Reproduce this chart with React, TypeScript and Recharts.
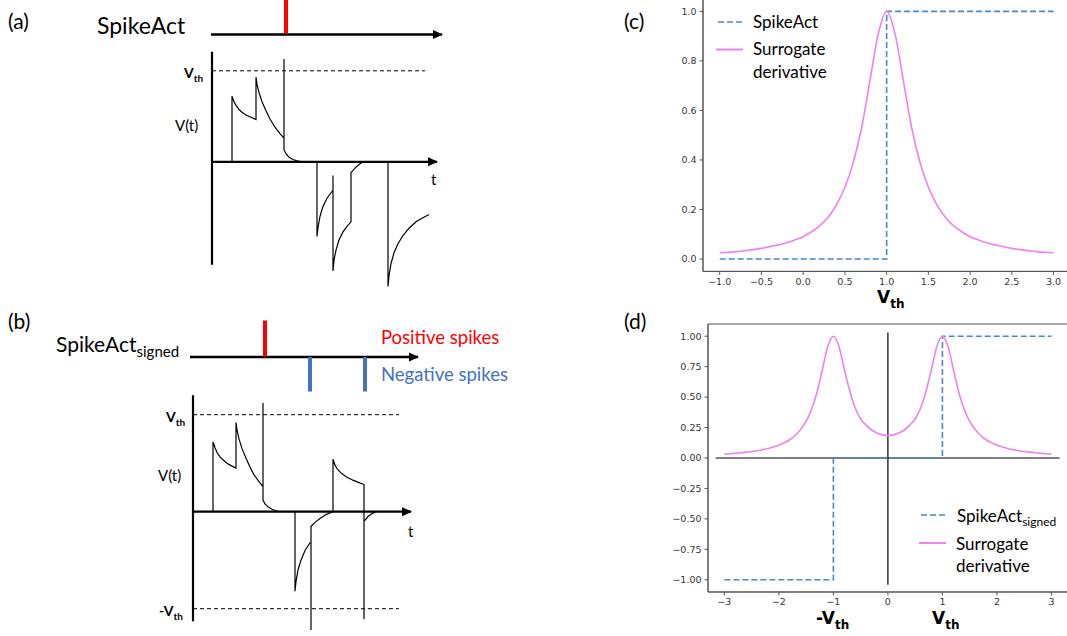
import { LineChart, Line, XAxis, YAxis, ReferenceArea } from "recharts";

type Pt = [number, number];

// ---- (a) SpikeAct schematic: t in arbitrary units, V in units of Vth ----
const trainA: Pt[] = [[-0.1, 1.4], [23.0, 1.4]];
const spikeA: Pt[] = [[7.4, 1.41], [7.4, 1.78]];
const axisVA: Pt[] = [[0, 1.21], [0, -1.13]];
const axisTA: Pt[] = [[0, 0], [22.5, 0]];
const vthA: Pt[] = [[0, 1], [21.3, 1]];
const tracePosA: Pt[] = [
  [2.0, 0], [2.0, 0.72], [2.2, 0.66], [2.4, 0.62], [2.7, 0.575], [3.0, 0.545], [3.4, 0.515], [3.9, 0.49], [4.4, 0.465],
  [4.4, 0.93], [4.5, 0.85], [4.7, 0.76], [5.0, 0.66], [5.4, 0.56], [5.8, 0.47], [6.3, 0.38], [6.8, 0.31], [7.2, 0.26],
  [7.2, 1.13], [7.2, 0.13], [7.4, 0.09], [7.7, 0.05], [8.1, 0.025], [8.5, 0.01], [9.0, 0],
];
const traceNegA: Pt[] = [
  [10.5, 0], [10.5, -0.82], [10.6, -0.72], [10.8, -0.6], [11.1, -0.49], [11.5, -0.4], [12.1, -0.31],
  [12.1, -0.15], [12.1, -1.2], [12.2, -1.08], [12.4, -0.97], [12.7, -0.86], [13.1, -0.77], [13.5, -0.71], [13.9, -0.66],
  [13.9, -0.12], [14.3, -0.07], [14.7, -0.03], [15.1, 0],
];
const traceLastA: Pt[] = [
  [17.6, 0], [17.6, -1.37], [17.7, -1.25], [17.9, -1.12], [18.2, -1.0], [18.6, -0.9], [19.1, -0.81],
  [19.7, -0.73], [20.4, -0.66], [21.0, -0.62], [21.7, -0.58],
];

// ---- (b) SpikeAct_signed schematic ----
const trainB: Pt[] = [[-0.3, 1.595], [22.5, 1.595]];
const spikePosB: Pt[] = [[7.2, 1.6], [7.2, 1.97]];
const spikeNegB1: Pt[] = [[11.7, 1.595], [11.7, 1.24]];
const spikeNegB2: Pt[] = [[17.2, 1.595], [17.2, 1.24]];
const axisVB: Pt[] = [[0, 1.2], [0, -1.13]];
const axisTB: Pt[] = [[0, 0], [21.8, 0]];
const vthB: Pt[] = [[0, 1], [20.6, 1]];
const vthNegB: Pt[] = [[0, -1], [20.6, -1]];
const tracePosB: Pt[] = [
  [2.0, 0], [2.0, 0.72], [2.2, 0.66], [2.4, 0.61], [2.7, 0.565], [3.0, 0.535], [3.4, 0.5], [3.8, 0.475], [4.3, 0.45],
  [4.3, 0.92], [4.4, 0.84], [4.6, 0.75], [4.9, 0.65], [5.3, 0.55], [5.7, 0.46], [6.1, 0.38], [6.6, 0.31], [7.0, 0.26],
  [7.0, 1.12], [7.0, 0.12], [7.2, 0.08], [7.5, 0.05], [7.9, 0.025], [8.3, 0.01], [8.7, 0],
];
const traceNegB: Pt[] = [
  [10.2, 0], [10.2, -0.82], [10.3, -0.72], [10.5, -0.6], [10.8, -0.5], [11.2, -0.4], [11.7, -0.32],
  [11.8, -0.32], [11.8, -1.22], [11.8, -0.15], [12.2, -0.11], [12.7, -0.07], [13.3, -0.03], [14.0, 0],
];
const traceLastB: Pt[] = [
  [14.0, 0], [14.0, 0.54], [14.2, 0.48], [14.5, 0.43], [14.9, 0.39], [15.4, 0.355], [16.0, 0.325], [16.6, 0.3], [17.1, 0.28],
  [17.1, -1.11], [17.1, -0.1], [17.5, -0.05], [17.9, -0.02], [18.3, 0],
];

// ---- (c) SpikeAct and surrogate derivative ----
const cX = [-1, -0.9, -0.8, -0.7, -0.6, -0.5, -0.4, -0.3, -0.2, -0.1, 0, 0.1, 0.2, 0.3, 0.4, 0.5, 0.6, 0.7, 0.8, 0.9, 1,
  1.1, 1.2, 1.3, 1.4, 1.5, 1.6, 1.7, 1.8, 1.9, 2, 2.1, 2.2, 2.3, 2.4, 2.5, 2.6, 2.7, 2.8, 2.9, 3];
const cSurrogate = [0.025, 0.027, 0.03, 0.034, 0.038, 0.043, 0.05, 0.057, 0.066, 0.077, 0.09, 0.11, 0.135, 0.17, 0.22,
  0.29, 0.39, 0.53, 0.72, 0.91, 1.0, 0.91, 0.72, 0.53, 0.39, 0.29, 0.22, 0.17, 0.135, 0.11, 0.09, 0.077, 0.066, 0.057,
  0.05, 0.043, 0.038, 0.034, 0.03, 0.027, 0.025];
const cStepX = [-1, 1, 1, 3];
const cStep = [0, 0, 1, 1];
const cTicksX = [-1, -0.5, 0, 0.5, 1, 1.5, 2, 2.5, 3];
const cTicksY = [0, 0.2, 0.4, 0.6, 0.8, 1.0];

// ---- (d) SpikeAct_signed and surrogate derivative ----
const dX = [-3, -2.9, -2.8, -2.7, -2.6, -2.5, -2.4, -2.3, -2.2, -2.1, -2, -1.9, -1.8, -1.7, -1.6, -1.5, -1.4, -1.3, -1.2,
  -1.1, -1, -0.9, -0.8, -0.7, -0.6, -0.5, -0.4, -0.3, -0.2, -0.1, 0, 0.1, 0.2, 0.3, 0.4, 0.5, 0.6, 0.7, 0.8, 0.9, 1,
  1.1, 1.2, 1.3, 1.4, 1.5, 1.6, 1.7, 1.8, 1.9, 2, 2.1, 2.2, 2.3, 2.4, 2.5, 2.6, 2.7, 2.8, 2.9, 3];
const dSurrogate = [0.032, 0.035, 0.039, 0.043, 0.048, 0.053, 0.06, 0.068, 0.078, 0.09, 0.105, 0.125, 0.15, 0.185,
  0.235, 0.3, 0.4, 0.54, 0.73, 0.92, 1.0, 0.92, 0.73, 0.55, 0.41, 0.32, 0.27, 0.23, 0.205, 0.19, 0.185, 0.19, 0.205,
  0.23, 0.27, 0.32, 0.41, 0.55, 0.73, 0.92, 1.0, 0.92, 0.73, 0.54, 0.4, 0.3, 0.235, 0.185, 0.15, 0.125, 0.105, 0.09,
  0.078, 0.068, 0.06, 0.053, 0.048, 0.043, 0.039, 0.035, 0.032];
const dStepX = [-3, -1, -1, 1, 1, 3];
const dStep = [-1, -1, 0, 0, 1, 1];
const dAxisH: Pt[] = [[-3.16, 0], [3.15, 0]];
const dAxisV: Pt[] = [[0, 1.03], [0, -1.04]];
const dTicksX = [-3, -2, -1, 0, 1, 2, 3];
const dTicksY = [-1, -0.75, -0.5, -0.25, 0, 0.25, 0.5, 0.75, 1];

const BLUE = "#4a88c7";
const PINK = "#ee82ee";
const SANS = "Lato, 'Open Sans', sans-serif";
const MPL = "'DejaVu Sans', sans-serif";

const pts = (a: Pt[]) => a.map(([t, v]) => ({ t, v }));
const xy = (xs: number[], ys: number[]) => xs.map((x, i) => ({ x, y: ys[i] }));
const minus = (s: string) => s.replace("-", "\u2212");

const arrowDot = (last: number) => (p: any) => {
  if (p.index !== last) return <g key={p.index} />;
  const { cx, cy } = p;
  return (
    <polygon key={p.index} points={`${cx + 1},${cy} ${cx - 9},${cy - 4.5} ${cx - 9},${cy + 4.5}`} fill="#000" />
  );
};

function seg(data: Pt[], stroke: string, width: number, extra: any = {}) {
  return (
    <Line
      data={pts(data)}
      dataKey="v"
      type="linear"
      stroke={stroke}
      strokeWidth={width}
      dot={false}
      activeDot={false}
      isAnimationActive={false}
      {...extra}
    />
  );
}

function Schematic(props: {
  left: number; top: number; width: number; height: number;
  xd: [number, number]; yd: [number, number]; children: any;
}) {
  return (
    <div style={{ position: "absolute", left: props.left, top: props.top }}>
      <LineChart width={props.width} height={props.height} margin={{ top: 0, right: 0, bottom: 0, left: 0 }}>
        <XAxis type="number" dataKey="t" domain={props.xd} allowDataOverflow hide />
        <YAxis type="number" domain={props.yd} allowDataOverflow hide />
        {props.children}
      </LineChart>
    </div>
  );
}

const tickStyle = { fill: "#333", fontSize: 9.5, fontFamily: MPL };

export default function App() {
  return (
    <div style={{ position: "absolute", left: 0, top: 0, width: 1067, height: 636, overflow: "hidden", background: "#fff" }}>
      {/* (a) */}
      <Schematic left={202} top={-1.8} width={250} height={300.3} xd={[-1, 24]} yd={[-1.5, 1.8]}>
        {seg(vthA, "#000", 1, { strokeDasharray: "4 3" })}
        {seg(tracePosA, "#000", 1.2)}
        {seg(traceNegA, "#000", 1.2)}
        {seg(traceLastA, "#000", 1.2)}
        {seg(axisVA, "#000", 2.2)}
        {seg(axisTA, "#000", 2.2, { dot: arrowDot(1) })}
        {seg(trainA, "#000", 2.5, { dot: arrowDot(1) })}
        {seg(spikeA, "#ff0000", 4)}
      </Schematic>

      {/* (b) */}
      <Schematic left={183} top={308.3} width={250} height={329.8} xd={[-1, 24]} yd={[-1.3, 2.1]}>
        {seg(vthB, "#000", 1, { strokeDasharray: "4 3" })}
        {seg(vthNegB, "#000", 1, { strokeDasharray: "4 3" })}
        {seg(tracePosB, "#000", 1.2)}
        {seg(traceNegB, "#000", 1.2)}
        {seg(traceLastB, "#000", 1.2)}
        {seg(axisVB, "#000", 2.2)}
        {seg(axisTB, "#000", 2.2, { dot: arrowDot(1) })}
        {seg(trainB, "#000", 2.5, { dot: arrowDot(1) })}
        {seg(spikePosB, "#ff0000", 4)}
        {seg(spikeNegB1, "#4472c4", 4)}
        {seg(spikeNegB2, "#4472c4", 4)}
      </Schematic>

      {/* (c) */}
      <div style={{ position: "absolute", left: 662.7, top: -10.7 }}>
        <LineChart width={407.3} height={312.4} margin={{ top: 10, right: 0, bottom: 0, left: 0 }}>
          <XAxis type="number" dataKey="x" domain={[-1.2, 3.2]} allowDataOverflow ticks={cTicksX} interval={0}
            tickFormatter={(v: number) => minus(v.toFixed(1))} height={30} tickSize={3.5} tickMargin={3}
            stroke="#555" tick={tickStyle} />
          <YAxis type="number" domain={[-0.05, 1.05]} allowDataOverflow ticks={cTicksY} interval={0}
            tickFormatter={(v: number) => v.toFixed(1)} width={40} tickSize={3.5} tickMargin={3}
            stroke="#555" tick={tickStyle} />
          <ReferenceArea x1={-1.2} x2={3.2} y1={-0.05} y2={1.05} fill="none" stroke="#555" strokeWidth={1} />
          <Line data={xy(cStepX, cStep)} dataKey="y" type="linear" stroke={BLUE} strokeWidth={1.6}
            strokeDasharray="6 3" dot={false} activeDot={false} isAnimationActive={false} />
          <Line data={xy(cX, cSurrogate)} dataKey="y" type="monotone" stroke={PINK} strokeWidth={1.6}
            dot={false} activeDot={false} isAnimationActive={false} />
        </LineChart>
      </div>

      {/* (d) */}
      <div style={{ position: "absolute", left: 667.6, top: 313.5 }}>
        <LineChart width={399.8} height={308} margin={{ top: 10, right: 0, bottom: 0, left: 0 }}>
          <XAxis type="number" dataKey="x" domain={[-3.3, 3.3]} allowDataOverflow ticks={dTicksX} interval={0}
            tickFormatter={(v: number) => minus(String(v))} height={30} tickSize={3.5} tickMargin={3}
            stroke="#555" tick={tickStyle} />
          <YAxis type="number" domain={[-1.1, 1.1]} allowDataOverflow ticks={dTicksY} interval={0}
            tickFormatter={(v: number) => minus(v.toFixed(2))} width={40} tickSize={3.5} tickMargin={3}
            stroke="#555" tick={tickStyle} />
          <ReferenceArea x1={-3.3} x2={3.3} y1={-1.1} y2={1.1} fill="none" stroke="#555" strokeWidth={1} />
          <Line data={dAxisH.map(([x, y]) => ({ x, y }))} dataKey="y" type="linear" stroke="#000" strokeWidth={1.2}
            dot={false} activeDot={false} isAnimationActive={false} />
          <Line data={dAxisV.map(([x, y]) => ({ x, y }))} dataKey="y" type="linear" stroke="#000" strokeWidth={1.2}
            dot={false} activeDot={false} isAnimationActive={false} />
          <Line data={xy(dStepX, dStep)} dataKey="y" type="linear" stroke={BLUE} strokeWidth={1.6}
            strokeDasharray="6 3" dot={false} activeDot={false} isAnimationActive={false} />
          <Line data={xy(dX, dSurrogate)} dataKey="y" type="monotone" stroke={PINK} strokeWidth={1.6}
            dot={false} activeDot={false} isAnimationActive={false} />
        </LineChart>
      </div>

      {/* labels */}
      <svg width={1067} height={636} style={{ position: "absolute", left: 0, top: 0, pointerEvents: "none" }}>
        <g fontFamily={SANS} fill="#000">
          <text x={8} y={29} fontSize={21}>(a)</text>
          <text x={97} y={34} fontSize={23}>SpikeAct</text>
          <text x={184} y={78} fontSize={14} fontWeight="bold">V<tspan fontSize={10} dy={4}>th</tspan></text>
          <text x={175} y={131} fontSize={15}>V(t)</text>
          <text x={431} y={185} fontSize={15} fill="#000">t</text>

          <text x={8} y={329} fontSize={21}>(b)</text>
          <text x={56} y={352} fontSize={21}>SpikeAct<tspan fontSize={15} dy={5}>signed</tspan></text>
          <text x={381} y={344} fontSize={18.5} fill="#ff0000">Positive spikes</text>
          <text x={381} y={381} fontSize={18.5} fill="#4472c4">Negative spikes</text>
          <text x={166} y={422} fontSize={14} fontWeight="bold">V<tspan fontSize={10} dy={4}>th</tspan></text>
          <text x={159} y={616} fontSize={14} fontWeight="bold">-V<tspan fontSize={10} dy={4}>th</tspan></text>
          <text x={158} y={481} fontSize={15}>V(t)</text>
          <text x={408} y={537} fontSize={15} fill="#000">t</text>

          <text x={624} y={29} fontSize={21}>(c)</text>
          <line x1={718} y1={22} x2={745} y2={22} stroke={BLUE} strokeWidth={1.6} strokeDasharray="6 3" />
          <text x={753} y={28} fontSize={17}>SpikeAct</text>
          <line x1={716} y1={49.5} x2={743} y2={49.5} stroke={PINK} strokeWidth={2} />
          <text x={753} y={55} fontSize={17}>Surrogate</text>
          <text x={753} y={77.5} fontSize={17}>derivative</text>

          <text x={624} y={329} fontSize={21}>(d)</text>
          <line x1={921} y1={515} x2={948} y2={515} stroke={BLUE} strokeWidth={1.6} strokeDasharray="6 3" />
          <text x={957} y={522} fontSize={17}>SpikeAct<tspan fontSize={12} dy={4}>signed</tspan></text>
          <line x1={919} y1={543} x2={946} y2={543} stroke={PINK} strokeWidth={2} />
          <text x={956} y={550} fontSize={17}>Surrogate</text>
          <text x={956} y={572} fontSize={17}>derivative</text>
        </g>
        <g fontFamily={MPL} fontWeight="bold" fill="#000">
          <text x={877} y={303} fontSize={17}>V<tspan fontSize={12} dy={5}>th</tspan></text>
          <text x={816} y={624} fontSize={17}>-V<tspan fontSize={12} dy={5}>th</tspan></text>
          <text x={932} y={624} fontSize={17}>V<tspan fontSize={12} dy={5}>th</tspan></text>
        </g>
      </svg>
    </div>
  );
}
